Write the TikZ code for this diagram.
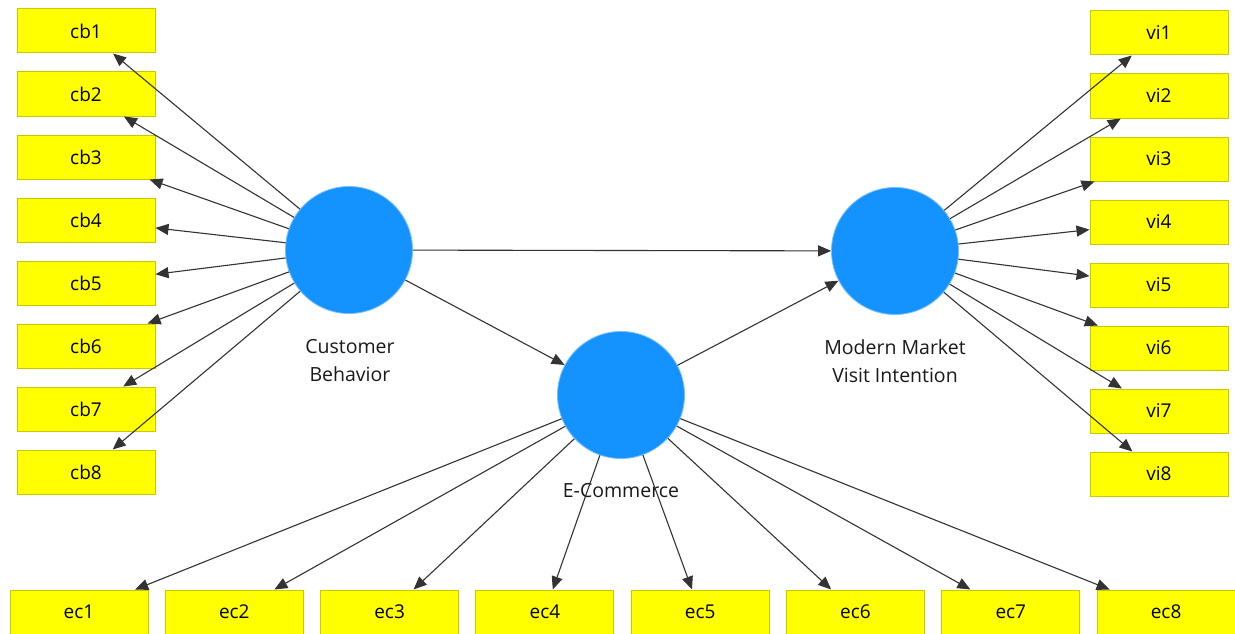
\documentclass[tikz,border=0pt]{standalone}
\usepackage{fontspec}
\setmainfont{Open Sans}
\usetikzlibrary{arrows.meta}
\definecolor{boxfill}{RGB}{255,255,0}
\definecolor{boxline}{RGB}{200,200,0}
\definecolor{lvfill}{RGB}{20,147,255}
\definecolor{lvline}{RGB}{120,190,255}
\tikzset{
  x=1pt,y=-1pt,
  ind/.style={draw=boxline,fill=boxfill,line width=1pt,minimum width=138pt,minimum height=44pt,inner sep=0pt,font=\fontsize{19}{22}\selectfont,text=black},
  lv/.style={circle,fill=lvfill,draw=lvline,line width=0.8pt,minimum size=127pt,inner sep=0pt},
  lbl/.style={align=center,font=\fontsize{19.5}{28}\selectfont,text=black!90},
  arr/.style={draw=black!80,line width=1.1pt,-{Triangle[length=13pt,width=11pt]}}
}
\begin{document}
\begin{tikzpicture}
\useasboundingbox[fill=white] (0,0) rectangle (1235,634);
\clip (0,0) rectangle (1235,634);
% latent variables
\node[lv] (CB) at (349,250) {};
\node[lv] (MM) at (895,251) {};
\node[lv] (EC) at (621,395) {};
\node[lbl] (CBl) at (350,361) {Customer\\Behavior};
\node[lbl] (MMl) at (895,361) {Modern Market\\Visit Intention};
\node[lbl] (ECl) at (621,491) {E-Commerce};
% indicators
\foreach \i in {1,...,8}{
  \node[ind] (cb\i) at (86,{31+63*(\i-1)}) {cb\i};
  \node[ind] (vi\i) at (1159,{33+63*(\i-1)}) {vi\i};
  \node[ind] (ec\i) at ({79+155.3*(\i-1)},612) {ec\i};
}
% arrows
\foreach \i in {1,...,8}{
  \draw[arr] (CB) -- (cb\i);
  \draw[arr] (MM) -- (vi\i);
  \draw[arr] (EC) -- (ec\i);
}
\draw[arr] (CB) -- (MM);
\draw[arr] (CB) -- (EC);
\draw[arr] (EC) -- (MM);
\end{tikzpicture}
\end{document}
